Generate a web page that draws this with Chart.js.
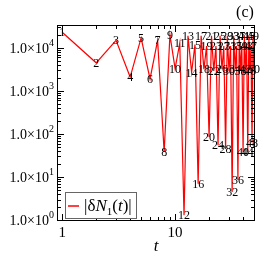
<!DOCTYPE html>
<html>
<head>
<meta charset="utf-8">
<script src="https://cdn.jsdelivr.net/npm/chart.js@4"></script>
<style>
  html, body { margin: 0; padding: 0; background: #fff; }
</style>
</head>
<body>
<canvas id="myChart" width="266" height="266"></canvas>
<script>
// time steps t and |dN_1(t)|
const steps = [1, 2, 3, 4, 5, 6, 7, 8, 9, 10,
               11, 12, 13, 14, 15, 16, 17, 18, 19, 20,
               21, 22, 23, 24, 25, 26, 27, 28, 29, 30,
               31, 32, 33, 34, 35, 36, 37, 38, 39, 40,
               41, 42, 43, 44, 45, 46, 47, 48, 49, 50];
const deltaN = [23000, 4500, 15000, 2100, 17000, 1900, 15000, 38, 20000, 3300,
                13000, 1.3, 19000, 2700, 12000, 7, 19000, 3200, 11000, 85,
                19000, 2900, 11000, 55, 19000, 3200, 11000, 45, 19000, 2900,
                11000, 4.5, 19000, 3200, 11000, 8.5, 19000, 3000, 11000, 38,
                19000, 3200, 11000, 38, 19000, 3000, 11000, 63, 19000, 3200];

// axis ticks
const xTickValues = [1, 10];
const yTickExponents = [0, 1, 2, 3, 4];

const serif = '"Liberation Serif", "DejaVu Serif", serif';

// frame, inward ticks, y labels with exponents, point numbers, legend
const decorations = {
    id: 'decorations',
    afterDatasetsDraw(chart) {
        const { ctx, chartArea: a, scales: { x, y } } = chart;
        ctx.save();

        // numbers next to each point
        ctx.font = '12px ' + serif;
        ctx.fillStyle = '#000';
        ctx.textAlign = 'center';
        ctx.textBaseline = 'middle';
        steps.forEach((s, i) => {
            ctx.fillText(String(s), x.getPixelForValue(s), y.getPixelForValue(deltaN[i]) + 1);
        });

        // frame
        ctx.strokeStyle = '#000';
        ctx.lineWidth = 1;
        ctx.strokeRect(a.left + 0.5, a.top + 0.5, a.right - a.left - 1, a.bottom - a.top - 1);

        // inward ticks on all four sides
        ctx.beginPath();
        for (let d = 1; d <= 100; d *= 10) {
            for (let m = 1; m <= 9; m++) {
                const v = d * m;
                if (v < x.min || v > x.max) continue;
                const px = Math.round(x.getPixelForValue(v)) + 0.5;
                const len = m === 1 ? 7 : 4;
                ctx.moveTo(px, a.bottom); ctx.lineTo(px, a.bottom - len);
                ctx.moveTo(px, a.top); ctx.lineTo(px, a.top + len);
            }
        }
        for (let d = 1; d <= 1e5; d *= 10) {
            for (let m = 1; m <= 9; m++) {
                const v = d * m;
                if (v < y.min || v > y.max) continue;
                const py = Math.round(y.getPixelForValue(v)) + 0.5;
                const len = m === 1 ? 7 : 4;
                ctx.moveTo(a.left, py); ctx.lineTo(a.left + len, py);
                ctx.moveTo(a.right, py); ctx.lineTo(a.right - len, py);
            }
        }
        ctx.stroke();

        // y tick labels 1.0x10^k
        yTickExponents.forEach(k => {
            const py = y.getPixelForValue(Math.pow(10, k));
            ctx.font = '14px ' + serif;
            const mainTxt = '1.0\u00d710';
            const w1 = ctx.measureText(mainTxt).width;
            ctx.font = '10px ' + serif;
            const w2 = ctx.measureText(String(k)).width;
            const x0 = 54 - w1 - w2;
            ctx.textAlign = 'left';
            ctx.textBaseline = 'middle';
            ctx.font = '14px ' + serif;
            ctx.fillText(mainTxt, x0, py + 1);
            ctx.font = '10px ' + serif;
            ctx.fillText(String(k), x0 + w1, py - 5);
        });

        // panel tag
        ctx.font = '16px ' + serif;
        ctx.textAlign = 'center';
        ctx.fillText('(c)', 245, 13);

        // legend
        ctx.fillStyle = '#fff';
        ctx.fillRect(65, 192, 71, 26);
        ctx.strokeStyle = '#666';
        ctx.strokeRect(65.5, 192.5, 71, 26);
        ctx.strokeStyle = '#ff0000';
        ctx.lineWidth = 1.5;
        ctx.beginPath();
        ctx.moveTo(68, 206); ctx.lineTo(79, 206);
        ctx.stroke();
        ctx.fillStyle = '#000';
        ctx.textAlign = 'left';
        ctx.textBaseline = 'alphabetic';
        let tx = 84;
        const base = 211;
        const part = (txt, font, dy) => {
            ctx.font = font;
            ctx.fillText(txt, tx, base + (dy || 0));
            tx += ctx.measureText(txt).width;
        };
        part('|\u03b4', '17px ' + serif);
        part('N', 'italic 17px ' + serif);
        part('1', '11px ' + serif, 4);
        part('(', '17px ' + serif);
        part('t', 'italic 17px ' + serif);
        part(')|', '17px ' + serif);

        ctx.restore();
    }
};

const ctx = document.getElementById('myChart');
const myChart = new Chart(ctx, {
    type: 'line',
    data: {
        datasets: [{
            label: '|\u03b4N1(t)|',
            data: steps.map((s, i) => ({ x: s, y: deltaN[i] })),
            borderColor: '#ff0000',
            borderWidth: 1.2,
            pointRadius: 0,
            tension: 0,
            fill: false
        }]
    },
    options: {
        responsive: false,
        animation: false,
        devicePixelRatio: 1,
        layout: { padding: { top: 25, right: 11, left: 0, bottom: 0 } },
        scales: {
            x: {
                type: 'logarithmic',
                min: 0.9,
                max: 51,
                grid: { display: false, drawTicks: false },
                border: { display: false },
                afterBuildTicks: s => { s.ticks = xTickValues.map(v => ({ value: v })); },
                afterFit: s => { s.height = 45; },
                ticks: {
                    callback: v => String(v),
                    color: '#000',
                    padding: 3,
                    maxRotation: 0,
                    autoSkip: false,
                    font: { family: serif, size: 15 }
                },
                title: {
                    display: true,
                    text: 't',
                    color: '#000',
                    padding: { top: 0, bottom: 9 },
                    font: { family: serif, size: 17, style: 'italic' }
                }
            },
            y: {
                type: 'logarithmic',
                min: 0.95,
                max: 34000,
                grid: { display: false, drawTicks: false },
                border: { display: false },
                ticks: { display: false },
                afterFit: s => { s.width = 57; }
            }
        },
        plugins: {
            legend: { display: false },
            tooltip: { enabled: false }
        }
    },
    plugins: [decorations]
});
</script>
</body>
</html>
